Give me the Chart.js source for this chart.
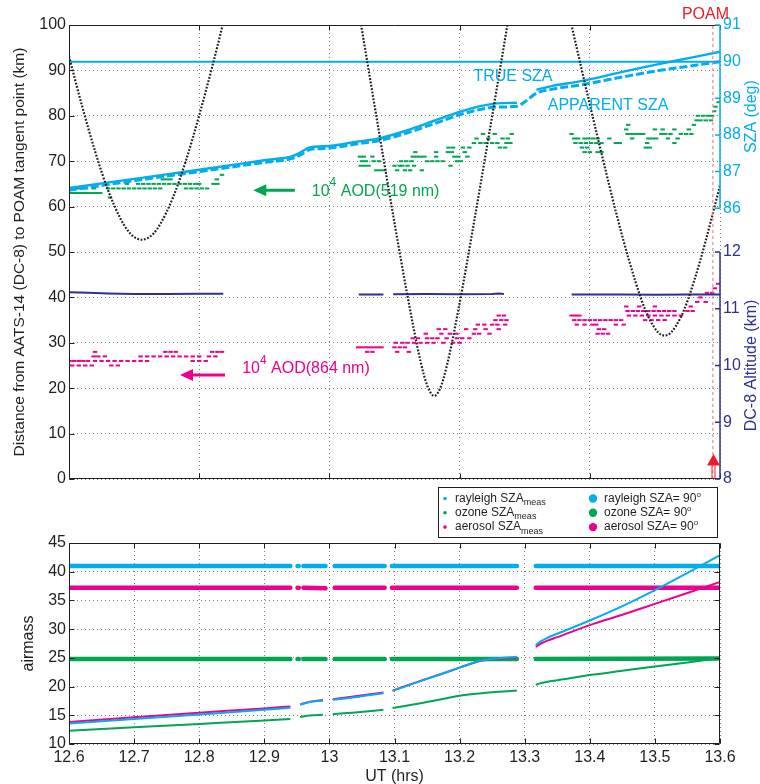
<!DOCTYPE html>
<html>
<head>
<meta charset="utf-8">
<script src="https://cdn.jsdelivr.net/npm/chart.js@4.4.1/dist/chart.umd.min.js"></script>
<style>
  html, body { margin: 0; padding: 0; background: #fff; }
  #wrap { position: relative; width: 760px; height: 784px; }
  canvas { position: absolute; left: 0; }
  #top { top: 0; }
  #bottom { top: 485px; }
</style>
</head>
<body>
<div id="wrap">
  <canvas id="top" width="760" height="485"></canvas>
  <canvas id="bottom" width="760" height="299"></canvas>
</div>
<script>
// ---------- top panel data ----------
// SZA (deg), upper right axis
var szaTime = [12.6, 12.7, 12.8, 12.9, 12.943, 12.955, 12.97, 12.99, 13.01, 13.04, 13.078, 13.12, 13.16, 13.2, 13.23, 13.257, 13.288, 13.30, 13.318, 13.343, 13.384, 13.45, 13.5, 13.55, 13.6];
var trueSza = [86.55, 86.80, 87.05, 87.31, 87.42, 87.52, 87.66, 87.69, 87.72, 87.81, 87.91, 88.13, 88.38, 88.63, 88.78, 88.86, 88.88, null, 89.23, 89.34, 89.46, 89.72, 89.91, 90.09, 90.27];
var apparentSza = [86.49, 86.75, 87.00, 87.25, 87.36, 87.45, 87.60, 87.63, 87.66, 87.75, 87.85, 88.06, 88.30, 88.55, 88.69, 88.76, 88.78, 88.90, 89.14, 89.25, 89.36, 89.58, 89.74, 89.87, 90.00];
var sza90Time = [12.6, 13.6];
var sza90 = [90, 90];

// distance DC-8 -> POAM tangent point (km), three passes
var poamT1 = [12.60, 12.62, 12.64, 12.66, 12.68, 12.69, 12.70, 12.712, 12.72, 12.73, 12.74, 12.76, 12.78, 12.80, 12.82, 12.84];
var poamD1 = [93.1, 82.2, 72.2, 63.6, 57.1, 54.8, 53.3, 52.7, 53.0, 54.1, 56.1, 62.1, 70.3, 80.1, 90.8, 102.3];
var poamT2 = [13.04, 13.06, 13.08, 13.10, 13.12, 13.14, 13.15, 13.161, 13.17, 13.18, 13.20, 13.22, 13.24, 13.26, 13.28];
var poamD2 = [107.5, 90.3, 73.2, 56.4, 40.3, 25.9, 20.7, 18.3, 19.9, 24.7, 38.7, 54.8, 71.5, 88.5, 105.7];
var poamT3 = [13.36, 13.38, 13.40, 13.42, 13.44, 13.46, 13.48, 13.49, 13.505, 13.515, 13.525, 13.54, 13.55, 13.57, 13.60];
var poamD3 = [107.5, 94.9, 82.5, 70.5, 58.9, 48.3, 39.2, 35.7, 32.3, 31.6, 32.3, 35.7, 39.2, 48.3, 64.6];
var poamUT = 13.589;

// DC-8 altitude (km), lower right axis
var altTime = [12.6, 12.63, 12.66, 12.7, 12.75, 12.8, 12.837, 12.9, 13.045, 13.083, 13.09, 13.098, 13.15, 13.2, 13.25, 13.26, 13.268, 13.3, 13.372, 13.45, 13.5, 13.55, 13.6];
var altKm = [11.29, 11.28, 11.27, 11.26, 11.26, 11.265, 11.265, null, 11.25, 11.25, null, 11.255, 11.26, 11.255, 11.26, 11.27, 11.26, null, 11.25, 11.25, 11.245, 11.25, 11.25];

// 10^4 AOD(519 nm), [UT, value]
var aod519 = [
  [12.600,63],[12.606,63],[12.612,63],[12.618,63],[12.624,63],[12.630,63],[12.636,63],[12.642,63],[12.648,63],[12.663,62],
  [12.604,64],[12.614,64],[12.626,64],[12.638,64],[12.660,64],[12.668,64],[12.676,64],[12.684,64],[12.692,64],[12.700,64],
  [12.708,64],[12.716,64],[12.724,64],[12.732,64],[12.740,64],[12.780,64],[12.788,64],[12.796,64],[12.804,64],[12.812,64],
  [12.689,65],[12.706,65],[12.714,65],[12.722,65],[12.730,65],[12.738,65],[12.746,65],[12.754,65],[12.762,65],[12.770,65],
  [12.778,65],[12.786,65],[12.794,65],[12.800,65],[12.822,65],[12.828,65],[12.744,66],[12.750,66],[12.756,66],[12.827,66],[12.835,67],
  [13.072,68],[13.078,68],[13.084,68],[13.104,68],[13.116,68],[13.124,68],[13.142,68],
  [13.048,69],[13.054,69],[13.060,69],[13.100,69],[13.108,69],[13.112,69],[13.120,69],[13.130,69],[13.186,69],
  [13.050,70],[13.056,70],[13.068,70],[13.076,70],[13.110,70],[13.118,70],[13.126,70],[13.150,70],[13.158,70],[13.166,70],[13.174,70],[13.196,70],[13.202,70],
  [13.047,71],[13.053,71],[13.066,71],[13.128,71],[13.134,71],[13.140,71],[13.146,71],[13.164,71],[13.192,71],[13.198,71],[13.212,71],
  [13.132,72],[13.164,72],[13.182,72],[13.188,72],[13.208,72],
  [13.183,73],[13.190,73],[13.205,73],[13.215,73],[13.262,73],[13.270,73],
  [13.222,74],[13.232,74],[13.240,74],[13.250,74],[13.258,74],[13.272,74],[13.278,74],
  [13.226,75],[13.244,75],[13.266,75],[13.274,75],[13.236,76],[13.254,76],[13.280,76],
  [13.392,72],[13.400,72],[13.412,72],[13.418,72],[13.388,73],[13.396,73],[13.486,73],[13.492,73],
  [13.378,74],[13.386,74],[13.394,74],[13.402,74],[13.410,74],[13.418,74],[13.440,74],[13.446,74],[13.488,74],[13.530,74],
  [13.376,75],[13.382,75],[13.392,75],[13.398,75],[13.405,75],[13.412,75],[13.430,75],[13.465,75],[13.490,75],[13.496,75],[13.502,75],[13.520,75],[13.535,75],
  [13.372,76],[13.458,76],[13.464,76],[13.470,76],[13.476,76],[13.482,76],[13.510,76],[13.516,76],[13.524,76],[13.540,76],[13.548,76],[13.556,76],
  [13.456,77],[13.500,77],[13.512,77],[13.530,77],[13.552,77],[13.459,78],[13.560,78],
  [13.564,79],[13.570,79],[13.578,79],[13.586,79],[13.566,80],[13.574,80],[13.582,80],[13.588,80],
  [13.591,81],[13.593,82],[13.598,83]
];

// 10^4 AOD(864 nm), [UT, value]
var aod864 = [
  [12.601,26],[12.608,26],[12.615,26],[12.622,26],[12.629,26],[12.640,26],[12.650,26],[12.660,26],[12.670,26],[12.680,26],
  [12.690,26],[12.700,26],[12.710,26],[12.720,26],[12.790,26],[12.800,26],[12.810,26],
  [12.605,25],[12.615,25],[12.625,25],[12.635,25],[12.665,25],[12.675,25],
  [12.638,27],[12.645,27],[12.655,27],[12.710,27],[12.720,27],[12.730,27],[12.740,27],[12.750,27],[12.760,27],[12.770,27],
  [12.780,27],[12.790,27],[12.800,27],[12.815,27],[12.825,27],
  [12.640,28],[12.748,28],[12.756,28],[12.764,28],[12.820,28],[12.828,28],[12.835,28],
  [13.044,29],[13.050,29],[13.056,29],[13.062,29],[13.068,29],[13.074,29],[13.080,29],[13.100,29],[13.108,29],[13.116,29],
  [13.058,28],[13.066,28],[13.104,28],[13.122,28],
  [13.102,30],[13.112,30],[13.120,30],[13.130,30],[13.140,30],[13.150,30],[13.160,30],[13.175,30],[13.190,30],[13.200,30],
  [13.128,31],[13.136,31],[13.150,31],[13.158,31],[13.166,31],[13.180,31],[13.196,31],[13.204,31],[13.215,31],
  [13.148,32],[13.172,32],[13.185,32],[13.195,32],[13.222,32],[13.230,32],[13.246,32],
  [13.168,33],[13.178,33],[13.210,33],[13.224,33],[13.240,33],[13.260,33],
  [13.228,34],[13.238,34],[13.250,34],[13.258,34],[13.270,34],[13.255,35],[13.264,35],[13.272,35],[13.260,36],[13.268,36],
  [13.372,36],[13.378,36],[13.384,36],[13.460,36],[13.470,36],[13.480,36],[13.490,36],[13.500,36],[13.510,36],[13.520,36],[13.530,36],[13.540,36],
  [13.376,35],[13.384,35],[13.392,35],[13.400,35],[13.408,35],[13.416,35],[13.424,35],[13.432,35],[13.440,35],[13.448,35],
  [13.485,35],[13.495,35],[13.505,35],[13.515,35],
  [13.380,34],[13.392,34],[13.404,34],[13.410,34],[13.440,34],[13.452,34],[13.414,33],[13.422,33],[13.412,32],[13.420,32],[13.428,32],
  [13.458,37],[13.466,37],[13.474,37],[13.482,37],[13.490,37],[13.498,37],[13.506,37],[13.514,37],[13.522,37],[13.530,37],[13.550,37],[13.558,37],
  [13.456,38],[13.476,38],[13.500,38],[13.555,38],[13.565,39],[13.578,39],[13.570,40],[13.580,41],[13.588,41],[13.592,42],[13.597,43]
];

// ---------- bottom panel data ----------
var utMeas = [12.6, 12.7, 12.8, 12.9, 12.94, 12.948, 12.955, 12.97, 12.99, 12.998, 13.005, 13.04, 13.083, 13.09, 13.097, 13.14, 13.18, 13.2, 13.23, 13.26, 13.288, 13.30, 13.317, 13.325, 13.335, 13.35, 13.4, 13.45, 13.5, 13.55, 13.6];
var rayleighMeas = [13.55, 14.35, 15.15, 15.95, 16.3, null, 16.85, 17.3, 17.55, null, 17.7, 18.15, 18.85, null, 19.25, 20.95, 22.5, 23.3, 24.45, 24.95, 25.2, null, 27.2, 27.9, 28.5, 29.2, 31.5, 34.0, 36.8, 39.8, 42.9];
var ozoneMeas = [12.3, 12.9, 13.5, 14.1, 14.35, null, 14.7, 14.95, 15.1, null, 15.2, 15.5, 15.95, null, 16.25, 17.1, 17.95, 18.4, 18.8, 19.1, 19.3, null, 20.3, 20.6, 20.85, 21.1, 22.0, 22.75, 23.5, 24.2, 24.95];
var aerosolMeas = [13.85, 14.65, 15.45, 16.2, 16.55, null, 16.9, 17.35, 17.65, null, 17.8, 18.3, 18.95, null, 19.3, 21.0, 22.5, 23.3, 24.4, 24.85, 25.0, null, 26.9, 27.5, 28.0, 28.6, 30.7, 32.5, 34.4, 36.3, 38.2];

var ut90 = [12.6, 12.94, 12.946, 12.951, 12.953, 12.957, 12.96, 12.994, 13.0, 13.008, 13.085, 13.09, 13.096, 13.288, 13.30, 13.317, 13.6];
var rayleigh90 = [41.0, 41.0, null, 41.0, 41.0, null, 41.0, 41.0, null, 41.0, 41.0, null, 41.0, 41.0, null, 41.0, 41.0];
var aerosol90 = [37.2, 37.2, null, 37.2, 37.2, null, 37.2, 37.1, null, 37.2, 37.2, null, 37.2, 37.2, null, 37.2, 37.2];
var ozone90 = [24.8, 24.8, null, 24.8, 24.8, null, 24.8, 24.8, null, 24.8, 24.8, null, 24.8, 24.8, null, 24.8, 24.9];

// tick labels
var utTickLabels = ['12.6', '12.7', '12.8', '12.9', '13', '13.1', '13.2', '13.3', '13.4', '13.5', '13.6'];
var szaTicks = [86, 87, 88, 89, 90, 91];
var altTicks = [8, 9, 10, 11, 12];

var FONT = '"Liberation Sans", Arial, Helvetica, sans-serif';
var CYAN = '#00aeef', GREEN = '#00a651', PINK = '#ec008c', NAVY = '#2e3192', INK = '#231f20', RED = '#ed1c24';

Chart.defaults.font.family = FONT;
Chart.defaults.font.size = 16;
Chart.defaults.color = INK;

function pts(t, v) {
  return t.map(function (x, i) { return { x: x, y: v[i] }; });
}
function pairs(list) {
  return list.map(function (p) { return { x: p[0], y: p[1] }; });
}

// text made of runs: [text, size, dy]
function runs(ctx, parts, x, y) {
  parts.forEach(function (r) {
    ctx.font = r[1] + 'px ' + FONT;
    ctx.fillText(r[0], x, y + r[2]);
    x += ctx.measureText(r[0]).width;
  });
}

function leftArrow(ctx, xTail, xTip, y, color) {
  ctx.strokeStyle = color;
  ctx.fillStyle = color;
  ctx.lineWidth = 3;
  ctx.beginPath();
  ctx.moveTo(xTail, y);
  ctx.lineTo(xTip + 10, y);
  ctx.stroke();
  ctx.beginPath();
  ctx.moveTo(xTip, y);
  ctx.lineTo(xTip + 13, y - 6);
  ctx.lineTo(xTip + 13, y + 6);
  ctx.closePath();
  ctx.fill();
}

function framePlugin(withRight) {
  return {
    id: 'frame',
    afterDraw: function (chart) {
      var ctx = chart.ctx, a = chart.chartArea, sx = chart.scales.x, sy = chart.scales.y;
      var L = Math.round(a.left) + 0.5, R = Math.round(a.right) - 0.5;
      var T = Math.round(a.top) + 0.5, B = Math.round(a.bottom) - 0.5;
      ctx.save();
      ctx.strokeStyle = INK;
      ctx.lineWidth = 1;
      ctx.beginPath();
      ctx.moveTo(L, T); ctx.lineTo(R, T);
      ctx.moveTo(L, B); ctx.lineTo(R, B);
      ctx.moveTo(L, T); ctx.lineTo(L, B);
      if (withRight) { ctx.moveTo(R, T); ctx.lineTo(R, B); }
      sx.ticks.forEach(function (t) {
        var px = Math.round(sx.getPixelForValue(t.value)) + 0.5;
        ctx.moveTo(px, T); ctx.lineTo(px, T + 5);
        ctx.moveTo(px, B); ctx.lineTo(px, B - 5);
      });
      sy.ticks.forEach(function (t) {
        var py = Math.round(sy.getPixelForValue(t.value)) + 0.5;
        ctx.moveTo(L, py); ctx.lineTo(L + 5, py);
        if (withRight) { ctx.moveTo(R, py); ctx.lineTo(R - 5, py); }
      });
      ctx.stroke();
      ctx.restore();
    }
  };
}

function sideAxis(ctx, scale, ticks, color, title, x) {
  var yA = scale.getPixelForValue(ticks[0]);
  var yB = scale.getPixelForValue(ticks[ticks.length - 1]);
  ctx.save();
  ctx.strokeStyle = color;
  ctx.fillStyle = color;
  ctx.lineWidth = 1.5;
  ctx.beginPath();
  ctx.moveTo(x, yA);
  ctx.lineTo(x, yB);
  ticks.forEach(function (t) {
    var y = scale.getPixelForValue(t);
    ctx.moveTo(x, y);
    ctx.lineTo(x - 5, y);
  });
  ctx.stroke();
  ctx.font = '16px ' + FONT;
  ctx.textAlign = 'left';
  ctx.textBaseline = 'middle';
  ticks.forEach(function (t) {
    ctx.fillText(String(t), x + 3, scale.getPixelForValue(t));
  });
  ctx.translate(x + 32, (yA + yB) / 2);
  ctx.rotate(-Math.PI / 2);
  ctx.textAlign = 'center';
  ctx.fillText(title, 0, 0);
  ctx.restore();
}

var rightAxes = {
  id: 'rightAxes',
  afterDraw: function (chart) {
    var a = chart.chartArea;
    sideAxis(chart.ctx, chart.scales.sza, szaTicks, CYAN, 'SZA (deg)', a.right);
    sideAxis(chart.ctx, chart.scales.alt, altTicks, NAVY, 'DC-8 Altitude (km)', a.right);
  }
};

var topNotes = {
  id: 'topNotes',
  afterDraw: function (chart) {
    var ctx = chart.ctx, sx = chart.scales.x, sy = chart.scales.y, a = chart.chartArea;
    var X = function (v) { return sx.getPixelForValue(v); };
    var Y = function (v) { return sy.getPixelForValue(v); };
    ctx.save();
    ctx.textBaseline = 'middle';
    ctx.font = '16px ' + FONT;
    ctx.fillStyle = CYAN;
    ctx.textAlign = 'center';
    ctx.fillText('TRUE SZA', X(13.282), Y(88.6));
    ctx.fillText('APPARENT SZA', X(13.428), Y(82.2));

    leftArrow(ctx, X(12.947), X(12.883), Y(63.6), GREEN);
    ctx.textAlign = 'left';
    ctx.fillStyle = GREEN;
    runs(ctx, [['10', 16, 0], ['4', 12, -8], [' AOD(519 nm)', 16, 0]], X(12.973), Y(63.4));

    leftArrow(ctx, X(12.8396), X(12.7705), Y(22.9), PINK);
    ctx.fillStyle = PINK;
    runs(ctx, [['10', 16, 0], ['4', 12, -8], [' AOD(864 nm)', 16, 0]], X(12.866), Y(24.3));

    // POAM marker
    var px = Math.round(X(poamUT)) + 0.5;
    ctx.fillStyle = RED;
    ctx.strokeStyle = RED;
    ctx.textAlign = 'center';
    ctx.font = '16px ' + FONT;
    ctx.fillText('POAM', px - 8, a.top - 10);
    ctx.beginPath();
    ctx.moveTo(px, Y(5.5));
    ctx.lineTo(px - 6.5, Y(3.0));
    ctx.lineTo(px + 6.5, Y(3.0));
    ctx.closePath();
    ctx.fill();
    ctx.lineWidth = 1;
    ctx.beginPath();
    ctx.moveTo(px - 1.5, Y(3.0)); ctx.lineTo(px - 1.5, a.bottom);
    ctx.moveTo(px + 1.5, Y(3.0)); ctx.lineTo(px + 1.5, a.bottom);
    ctx.stroke();
    ctx.restore();
  }
};

var legendRows = [['rayleigh', CYAN], ['ozone', GREEN], ['aerosol', PINK]];
var airLegend = {
  id: 'airLegend',
  afterDraw: function (chart) {
    var ctx = chart.ctx;
    ctx.save();
    ctx.fillStyle = '#fff';
    ctx.fillRect(438.5, 2.5, 279, 50);
    ctx.strokeStyle = INK;
    ctx.lineWidth = 1;
    ctx.strokeRect(438.5, 2.5, 279, 50);
    ctx.textBaseline = 'middle';
    ctx.textAlign = 'left';
    legendRows.forEach(function (r, i) {
      var y = 13.5 + i * 14.3;
      ctx.fillStyle = r[1];
      ctx.beginPath(); ctx.arc(445, y, 1.8, 0, Math.PI * 2); ctx.fill();
      ctx.beginPath(); ctx.arc(593, y, 4.2, 0, Math.PI * 2); ctx.fill();
      ctx.fillStyle = INK;
      runs(ctx, [[r[0] + ' SZA', 12, 0], ['meas', 9, 4]], 455, y);
      runs(ctx, [[r[0] + ' SZA= 90', 12, 0], ['o', 8, -4]], 604, y);
    });
    ctx.restore();
  }
};

var gridDots = { color: '#808080', lineWidth: 1, drawTicks: false };

function axisFit(w) {
  return function (s) { s.width = w; s.paddingTop = 0; s.paddingBottom = 0; };
}

// ---------- top chart ----------
new Chart(document.getElementById('top'), {
  type: 'line',
  data: {
    datasets: [
      { label: 'POAM', data: pts([poamUT, poamUT], [0, 100]), borderColor: '#f4868c', borderWidth: 1.2, borderDash: [3, 3] },
      { label: 'distance 1', data: pts(poamT1, poamD1), borderColor: INK, borderWidth: 2.2, borderDash: [1.8, 1.6], cubicInterpolationMode: 'monotone' },
      { label: 'distance 2', data: pts(poamT2, poamD2), borderColor: INK, borderWidth: 2.2, borderDash: [1.8, 1.6], cubicInterpolationMode: 'monotone' },
      { label: 'distance 3', data: pts(poamT3, poamD3), borderColor: INK, borderWidth: 2.2, borderDash: [1.8, 1.6], cubicInterpolationMode: 'monotone' },
      { label: 'DC-8 altitude', data: pts(altTime, altKm), yAxisID: 'alt', borderColor: NAVY, borderWidth: 2 },
      { label: 'TRUE SZA', data: pts(szaTime, trueSza), yAxisID: 'sza', borderColor: CYAN, borderWidth: 2.4, cubicInterpolationMode: 'monotone' },
      { label: 'APPARENT SZA', data: pts(szaTime, apparentSza), yAxisID: 'sza', borderColor: CYAN, borderWidth: 3, borderDash: [8, 3], cubicInterpolationMode: 'monotone' },
      { label: 'SZA 90', data: pts(sza90Time, sza90), yAxisID: 'sza', borderColor: CYAN, borderWidth: 2 },
      { label: 'AOD 519', data: pairs(aod519), showLine: false, pointStyle: 'line', pointRadius: 2.2, pointBorderWidth: 2, pointBorderColor: GREEN, borderColor: GREEN },
      { label: 'AOD 864', data: pairs(aod864), showLine: false, pointStyle: 'line', pointRadius: 2.2, pointBorderWidth: 2, pointBorderColor: PINK, borderColor: PINK }
    ]
  },
  options: {
    responsive: false,
    animation: false,
    layout: { padding: { top: 25, right: 40, left: 0, bottom: 0 } },
    elements: { point: { radius: 0 }, line: { tension: 0 } },
    plugins: { legend: { display: false }, tooltip: { enabled: false } },
    scales: {
      x: {
        type: 'linear', min: 12.6, max: 13.6,
        ticks: { display: false, stepSize: 0.2 },
        grid: gridDots,
        border: { display: false, dash: [1, 3] },
        afterFit: function (s) { s.height = 5; }
      },
      y: {
        min: 0, max: 100,
        ticks: { stepSize: 10, padding: 3, color: INK },
        grid: gridDots,
        border: { display: false, dash: [1, 3] },
        title: { display: true, text: 'Distance from AATS-14 (DC-8) to POAM tangent point (km)', font: { size: 15.5 }, color: INK, padding: { top: 10, bottom: 0 } },
        afterFit: axisFit(69)
      },
      sza: { type: 'linear', position: 'right', display: false, min: 78.61, max: 91 },
      alt: { type: 'linear', position: 'right', display: false, min: 8, max: 16 }
    }
  },
  plugins: [framePlugin(false), rightAxes, topNotes]
});

// ---------- bottom chart ----------
var thin = { borderWidth: 2, cubicInterpolationMode: 'monotone' };
var thick = { borderWidth: 4.5, borderCapStyle: 'round' };

new Chart(document.getElementById('bottom'), {
  type: 'line',
  data: {
    datasets: [
      Object.assign({ label: 'rayleigh SZAmeas', data: pts(utMeas, rayleighMeas), borderColor: CYAN }, thin),
      Object.assign({ label: 'aerosol SZAmeas', data: pts(utMeas, aerosolMeas), borderColor: PINK }, thin),
      Object.assign({ label: 'ozone SZAmeas', data: pts(utMeas, ozoneMeas), borderColor: GREEN }, thin),
      Object.assign({ label: 'rayleigh SZA=90', data: pts(ut90, rayleigh90), borderColor: CYAN }, thick),
      Object.assign({ label: 'aerosol SZA=90', data: pts(ut90, aerosol90), borderColor: PINK }, thick),
      Object.assign({ label: 'ozone SZA=90', data: pts(ut90, ozone90), borderColor: GREEN }, thick)
    ]
  },
  options: {
    responsive: false,
    animation: false,
    layout: { padding: { top: 58, right: 40, left: 0, bottom: 0 } },
    elements: { point: { radius: 0 }, line: { tension: 0 } },
    plugins: { legend: { display: false }, tooltip: { enabled: false } },
    scales: {
      x: {
        type: 'linear', min: 12.6, max: 13.6,
        ticks: { stepSize: 0.1, autoSkip: false, maxRotation: 0, padding: 4, color: INK,
          callback: function (v, i) { return utTickLabels[i]; } },
        grid: gridDots,
        border: { display: false, dash: [1, 3] },
        title: { display: true, text: 'UT (hrs)', color: INK, padding: { top: 0, bottom: -2 } },
        afterFit: function (s) { s.height = 40; }
      },
      y: {
        min: 10, max: 45,
        ticks: { stepSize: 5, padding: 3, color: INK },
        grid: gridDots,
        border: { display: false, dash: [1, 3] },
        title: { display: true, text: 'airmass', color: INK, padding: { top: 19, bottom: 0 } },
        afterFit: axisFit(69)
      }
    }
  },
  plugins: [framePlugin(true), airLegend]
});
</script>
</body>
</html>
